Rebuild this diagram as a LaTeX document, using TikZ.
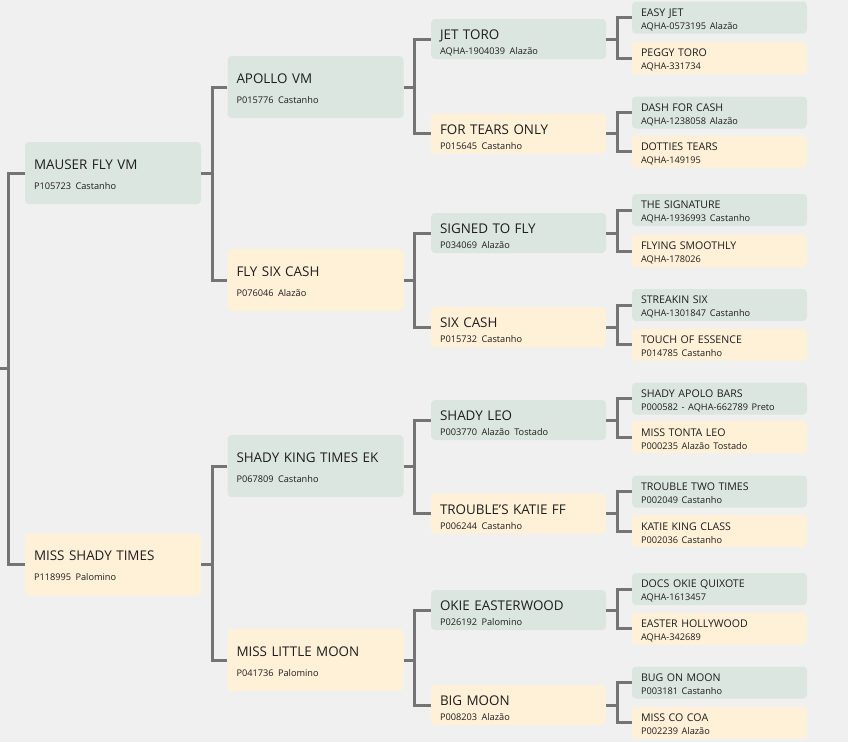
\documentclass[tikz,border=0pt]{standalone}
\usepackage{fontspec}
\setmainfont{Open Sans}
\usepackage{tikz}
\usetikzlibrary{positioning}
\usepackage{xcolor}
\definecolor{canvas}{HTML}{F0F0F0}
\definecolor{sirefill}{HTML}{DCE6E0}
\definecolor{damfill}{HTML}{FFF0D8}
\definecolor{linkgray}{HTML}{747474}
\definecolor{ink}{HTML}{1E1E1E}
\newcommand{\regno}{\fontsize{9.2}{13}\selectfont}

\begin{document}
\begin{tikzpicture}[
    x=1pt, y=-1pt,
    horse/.style={rounded corners=4pt, inner xsep=9pt, inner ysep=0pt, align=left, text=ink},
    sire/.style={horse, fill=sirefill},
    dam/.style={horse, fill=damfill},
    genA/.style={minimum width=176pt, text width=158pt, minimum height=62pt, font=\fontsize{13.4}{20}\selectfont,
      execute at begin node={\rule{0pt}{12.6pt}}},
    genB/.style={minimum width=175pt, text width=157pt, minimum height=40pt, font=\fontsize{13.4}{15}\selectfont,
      execute at begin node={\rule{0pt}{16.6pt}}},
    genC/.style={minimum width=175pt, text width=157pt, minimum height=32pt, font=\fontsize{10.6}{13}\selectfont,
      execute at begin node={\rule{0pt}{11.6pt}}},
    link/.style={draw=linkgray, line width=3pt},
  ]
    \useasboundingbox (0,0) rectangle (848,742);
    \fill[canvas] (0,0) rectangle (848,742);

    % parents
    \node[sire, genA] (mauser)    at (113,173)   {MAUSER FLY VM\\\regno P105723 Castanho};
    \node[dam, genA]  (missshady) at (113,564.5) {MISS SHADY TIMES\\\regno P118995 Palomino};

    % grandparents
    \node[sire, genA] (apollo)     at (315.5,87)  {APOLLO VM\\\regno P015776 Castanho};
    \node[dam, genA]  (flysix)     at (315.5,280) {FLY SIX CASH\\\regno P076046 Alazão};
    \node[sire, genA] (shadyking)  at (315.5,466) {SHADY KING TIMES EK\\\regno P067809 Castanho};
    \node[dam, genA]  (misslittle) at (315.5,660) {MISS LITTLE MOON\\\regno P041736 Palomino};

    % great-grandparents
    \node[sire, genB] (jettoro)  at (518.5,39)    {JET TORO\\\regno AQHA-1904039 Alazão};
    \node[dam, genB]  (fortears) at (518.5,133.5) {FOR TEARS ONLY\\\regno P015645 Castanho};
    \node[sire, genB] (signed)   at (518.5,233)   {SIGNED TO FLY\\\regno P034069 Alazão};
    \node[dam, genB]  (sixcash)  at (518.5,327)   {SIX CASH\\\regno P015732 Castanho};
    \node[sire, genB] (shadyleo) at (518.5,420)   {SHADY LEO\\\regno P003770 Alazão Tostado};
    \node[dam, genB]  (troubles) at (518.5,513.5) {TROUBLE'S KATIE FF\\\regno P006244 Castanho};
    \node[sire, genB] (okie)     at (518.5,610)   {OKIE EASTERWOOD\\\regno P026192 Palomino};
    \node[dam, genB]  (bigmoon)  at (518.5,705)   {BIG MOON\\\regno P008203 Alazão};

    % great-great-grandparents
    \node[sire, genC] (easyjet)    at (719.5,17.5)  {EASY JET\\\regno AQHA-0573195 Alazão};
    \node[dam, genC]  (peggy)      at (719.5,58)    {PEGGY TORO\\\regno AQHA-331734};
    \node[sire, genC] (dash)       at (719.5,112.5) {DASH FOR CASH\\\regno AQHA-1238058 Alazão};
    \node[dam, genC]  (dotties)    at (719.5,151.5) {DOTTIES TEARS\\\regno AQHA-149195};
    \node[sire, genC] (signature)  at (719.5,210)   {THE SIGNATURE\\\regno AQHA-1936993 Castanho};
    \node[dam, genC]  (flying)     at (719.5,251)   {FLYING SMOOTHLY\\\regno AQHA-178026};
    \node[sire, genC] (streakin)   at (719.5,305)   {STREAKIN SIX\\\regno AQHA-1301847 Castanho};
    \node[dam, genC]  (touch)      at (719.5,344.5) {TOUCH OF ESSENCE\\\regno P014785 Castanho};
    \node[sire, genC] (shadyapolo) at (719.5,398.5) {SHADY APOLO BARS\\\regno P000582 - AQHA-662789 Preto};
    \node[dam, genC]  (misstonta)  at (719.5,437)   {MISS TONTA LEO\\\regno P000235 Alazão Tostado};
    \node[sire, genC] (troubletwo) at (719.5,491.5) {TROUBLE TWO TIMES\\\regno P002049 Castanho};
    \node[dam, genC]  (katie)      at (719.5,531)   {KATIE KING CLASS\\\regno P002036 Castanho};
    \node[sire, genC] (docs)       at (719.5,589)   {DOCS OKIE QUIXOTE\\\regno AQHA-1613457};
    \node[dam, genC]  (easter)     at (719.5,628.5) {EASTER HOLLYWOOD\\\regno AQHA-342689};
    \node[sire, genC] (bug)        at (719.5,682.5) {BUG ON MOON\\\regno P003181 Castanho};
    \node[dam, genC]  (misscocoa)  at (719.5,722.5) {MISS CO COA\\\regno P002239 Alazão};

    % brackets
    \coordinate (root) at (0,368);
    \draw[link] (mauser.west) -- ++(-16,0) coordinate (j0) |- (missshady.west); \draw[link] (root) -- (root -| j0);

    \draw[link] (apollo.west) -- ++(-15,0) coordinate (j1) |- (flysix.west); \draw[link] (mauser.east) -- (mauser.east -| j1);
    \draw[link] (shadyking.west) -- ++(-15,0) coordinate (j2) |- (misslittle.west); \draw[link] (missshady.east) -- (missshady.east -| j2);

    \draw[link] (jettoro.west) -- ++(-16,0) coordinate (j3) |- (fortears.west); \draw[link] (apollo.east) -- (apollo.east -| j3);
    \draw[link] (signed.west) -- ++(-16,0) coordinate (j4) |- (sixcash.west); \draw[link] (flysix.east) -- (flysix.east -| j4);
    \draw[link] (shadyleo.west) -- ++(-16,0) coordinate (j5) |- (troubles.west); \draw[link] (shadyking.east) -- (shadyking.east -| j5);
    \draw[link] (okie.west) -- ++(-16,0) coordinate (j6) |- (bigmoon.west); \draw[link] (misslittle.east) -- (misslittle.east -| j6);

    \draw[link] (easyjet.west) -- ++(-14,0) coordinate (j7) |- (peggy.west); \draw[link] (jettoro.east) -- (jettoro.east -| j7);
    \draw[link] (dash.west) -- ++(-14,0) coordinate (j8) |- (dotties.west); \draw[link] (fortears.east) -- (fortears.east -| j8);
    \draw[link] (signature.west) -- ++(-14,0) coordinate (j9) |- (flying.west); \draw[link] (signed.east) -- (signed.east -| j9);
    \draw[link] (streakin.west) -- ++(-14,0) coordinate (j10) |- (touch.west); \draw[link] (sixcash.east) -- (sixcash.east -| j10);
    \draw[link] (shadyapolo.west) -- ++(-14,0) coordinate (j11) |- (misstonta.west); \draw[link] (shadyleo.east) -- (shadyleo.east -| j11);
    \draw[link] (troubletwo.west) -- ++(-14,0) coordinate (j12) |- (katie.west); \draw[link] (troubles.east) -- (troubles.east -| j12);
    \draw[link] (docs.west) -- ++(-14,0) coordinate (j13) |- (easter.west); \draw[link] (okie.east) -- (okie.east -| j13);
    \draw[link] (bug.west) -- ++(-14,0) coordinate (j14) |- (misscocoa.west); \draw[link] (bigmoon.east) -- (bigmoon.east -| j14);
  \end{tikzpicture}
\end{document}
